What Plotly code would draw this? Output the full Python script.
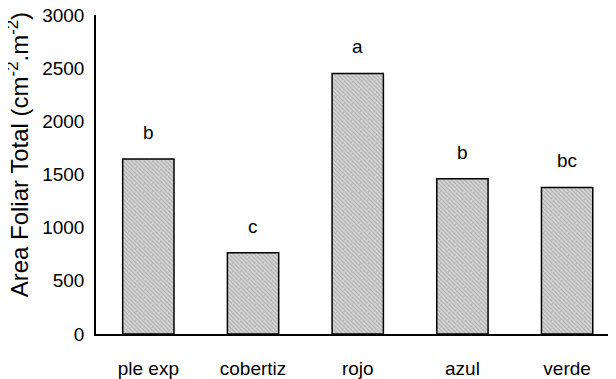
import plotly.graph_objects as go

categories = ["ple exp", "cobertiz", "rojo", "azul", "verde"]
values = [1645, 765, 2450, 1460, 1378]
letters = ["b", "c", "a", "b", "bc"]
y_ticks = [0, 500, 1000, 1500, 2000, 2500, 3000]
y_title = "Area Foliar Total (cm<sup>-2</sup>.m<sup>-2</sup>)"

FONT = "Liberation Sans, Arial, sans-serif"

fig = go.Figure()
fig.add_trace(go.Bar(
    x=categories,
    y=values,
    width=0.49,
    marker=dict(
        color="#c8c8c8",
        line=dict(color="black", width=1.5),
        pattern=dict(shape="\\", fgcolor="#8a8a8a", bgcolor="#d2d2d2", size=3, solidity=0.35),
    ),
    showlegend=False,
))

for c, v, t in zip(categories, values, letters):
    fig.add_annotation(x=c, y=v, text=t, showarrow=False, yanchor="bottom", yshift=14,
                       font=dict(family=FONT, size=19, color="black"))

fig.add_annotation(x=-0.15, y=0.56, xref="paper", yref="paper", text=y_title,
                   textangle=-90, showarrow=False, xanchor="center", yanchor="middle",
                   font=dict(family=FONT, size=24, color="black"))

fig.update_layout(
    width=608, height=371,
    margin=dict(l=88, r=0, t=7, b=45),
    paper_bgcolor="white", plot_bgcolor="white",
    font=dict(family=FONT, size=18, color="black"),
    bargap=0.5,
)
fig.update_xaxes(
    range=[-0.5, 4.467],
    automargin=False,
    showline=True, linecolor="black", linewidth=1.5,
    ticks="", showgrid=False, zeroline=False,
    ticklabelstandoff=16,
    tickfont=dict(family=FONT, size=19, color="black"),
)
fig.update_yaxes(
    range=[0, 3000],
    automargin=False,
    tickvals=y_ticks,
    ticklabeloverflow="allow",
    showline=True, linecolor="black", linewidth=1.5,
    ticks="", showgrid=False, zeroline=False,
    ticklabelstandoff=6,
    tickfont=dict(family=FONT, size=19, color="black"),
)

fig.write_html("out.html")
